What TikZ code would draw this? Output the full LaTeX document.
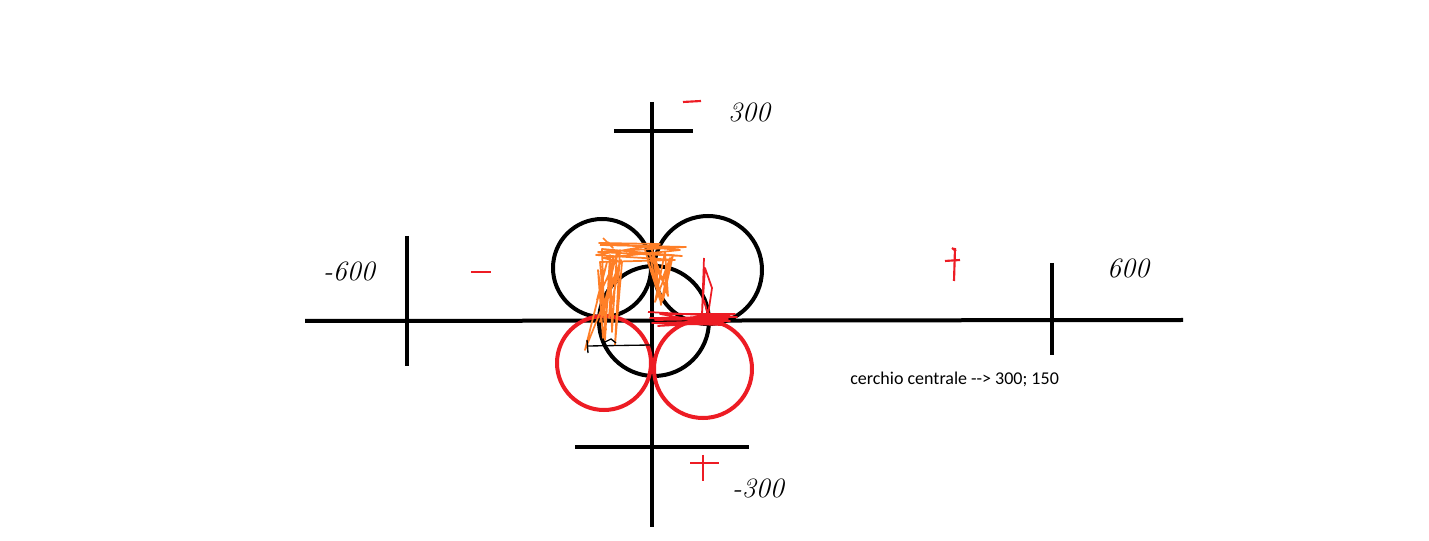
\documentclass[tikz,border=0pt]{standalone}
\usepackage{fontspec}
\newfontfamily\calib{Carlito}
\definecolor{pred}{RGB}{237,28,36}
\definecolor{porange}{RGB}{255,127,39}
\begin{document}
\begin{tikzpicture}[x=0.75pt,y=-0.75pt,
 axis/.style={line width=3pt},
 ring/.style={line width=3pt},
 redring/.style={line width=3pt,pred},
 hand/.style={font=\fontsize{21}{21}\selectfont\itshape, inner sep=0pt},
 sign/.style={pred, line width=1.6pt},
 scrib/.style={porange, line width=1.3pt, line join=round},
 rscrib/.style={pred, line width=1.3pt, line join=round},
 thin/.style={line width=1pt},
 note/.style={font=\calib\fontsize{13.5}{14}\selectfont, inner sep=0pt, anchor=west}]
\useasboundingbox[fill=white] (0,0) rectangle (1429,541);
% axes
\coordinate (hl) at (305,321); \coordinate (hr) at (1183,320);
\coordinate (vt) at (652,102); \coordinate (vb) at (652,527);
\draw[axis] (hl) -- (hr);
\draw[axis] (vt) -- (vb);
% ticks
\coordinate (tt1) at (614,131); \coordinate (tt2) at (693,131);
\coordinate (bt1) at (575,447); \coordinate (bt2) at (749,447);
\coordinate (lt1) at (407,236); \coordinate (lt2) at (407,366);
\coordinate (rt1) at (1052,263); \coordinate (rt2) at (1052,355);
\draw[axis] (tt1) -- (tt2);
\draw[axis] (bt1) -- (bt2);
\draw[axis] (lt1) -- (lt2);
\draw[axis] (rt1) -- (rt2);
% circles
\draw[ring] (602,268) circle[radius=49];
\draw[ring] (708,270) circle[radius=54];
\draw[ring] (654,321) circle[radius=55];
\draw[redring] (604,363) circle[radius=47];
\draw[redring] (703,369) circle[radius=49];
% orange scribble
\draw[scrib] (600,245) -- (686,247) -- (598,252) -- (682,256) -- (602,249) -- (605,340)
 -- (610,255) -- (612,332) -- (617,252) -- (600,322) -- (621,260) -- (585,350)
 -- (607,262) -- (597,300) -- (620,250) -- (615,345) -- (622,262) -- (603,258) -- (680,250)
 -- (599,243) -- (660,244) -- (596,255) -- (675,260) -- (600,262) -- (606,330)
 -- (598,270) -- (603,338) -- (613,258) -- (609,318) -- (619,265) -- (613,300);
\draw[scrib] (603,238) -- (613,248) -- (608,242);
\draw[scrib] (645,250) -- (660,300) -- (652,250) -- (668,296) -- (665,252) -- (655,302) -- (673,255) -- (663,300) -- (648,262)
 -- (657,290) -- (650,255) -- (662,280) -- (670,258) -- (661,305) -- (655,260);
% red scribble
\draw[rscrib] (704,258) -- (702,314) -- (705,268) -- (712,288) -- (708,315) -- (704,300);
\draw[rscrib] (648,312) -- (737,317) -- (650,318) -- (730,321) -- (652,323) -- (722,325) -- (660,314) -- (735,314)
 -- (655,320) -- (728,319) -- (658,326) -- (712,323);
% small black stroke
\coordinate (s1) at (588,346); \coordinate (s2) at (650,345);
\draw[thin] (s1) -- (s2);
\draw[thin] (587,340) -- (588,353);
\draw[thin] (603,343) -- (611,339) -- (616,343);
% red signs
\draw[sign] (683,102) -- (701,101);
\draw[sign] (471,272) -- (491,272);
\draw[sign] (955,248) -- (954,281);
\draw[sign] (945,261) -- (960,260);
\draw[sign] (952,248) -- (956,251);
\draw[sign] (690,463) -- (719,463);
\draw[sign] (703,455) -- (703,481);
% labels
\node[hand] (ltop) at (749,112) {300};
\node[hand] (lleft) at (349,271) {-600};
\node[hand] (lright) at (1128,268) {600};
\node[hand] (lbot) at (758,488) {-300};
\node[note] (txt) at (850,379) {cerchio centrale -\kern0pt-> 300; 150};
\end{tikzpicture}
\end{document}
